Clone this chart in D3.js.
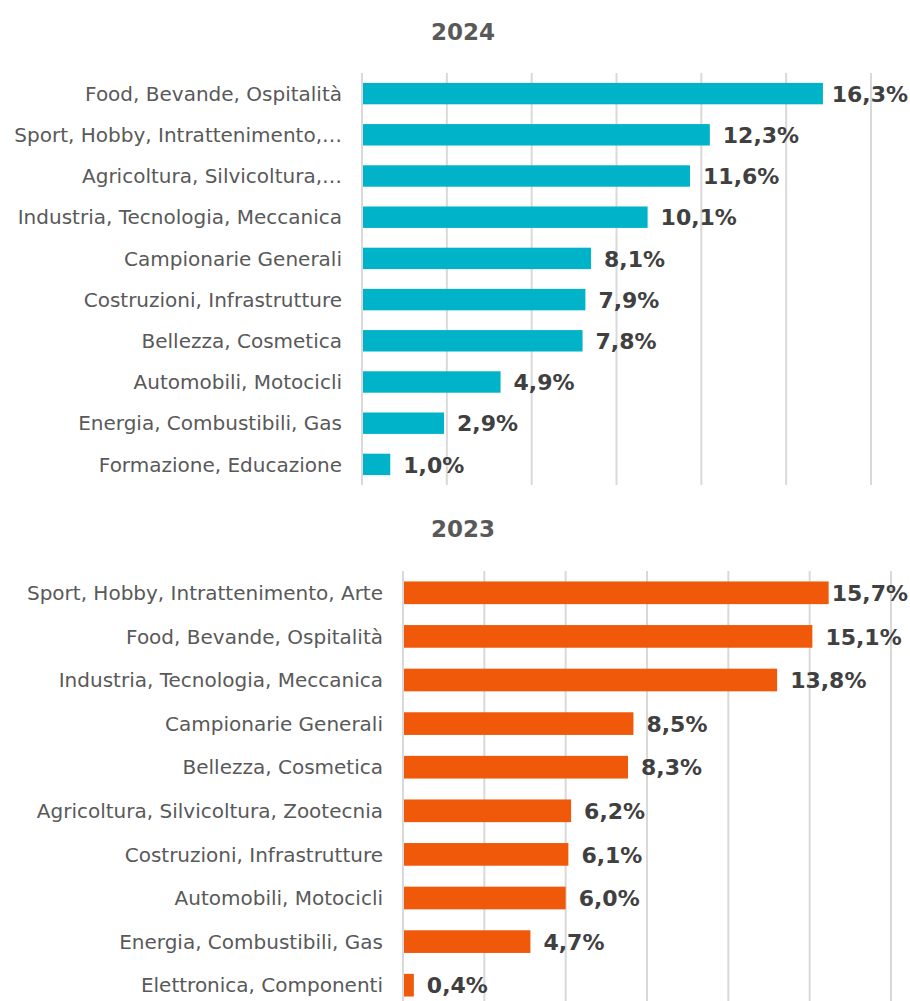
<!DOCTYPE html>
<html>
<head>
<meta charset="utf-8">
<script src="https://cdn.jsdelivr.net/npm/d3@7"></script>
<style>
  body { margin: 0; background: #fff; }
  svg { display: block; }
  .cat { font-family: "DejaVu Sans", Verdana, sans-serif; font-size: 20px; fill: #595959; }
  .val { font-family: "DejaVu Sans", Verdana, sans-serif; font-size: 22px; font-weight: bold; fill: #404040; }
  .ttl { font-family: "DejaVu Sans", Verdana, sans-serif; font-size: 23px; font-weight: bold; fill: #595959; }
</style>
</head>
<body>
<div id="chart"></div>
<script>
const categories2024 = [
  'Food, Bevande, Ospitalità',
  'Sport, Hobby, Intrattenimento,…',
  'Agricoltura, Silvicoltura,…',
  'Industria, Tecnologia, Meccanica',
  'Campionarie Generali',
  'Costruzioni, Infrastrutture',
  'Bellezza, Cosmetica',
  'Automobili, Motocicli',
  'Energia, Combustibili, Gas',
  'Formazione, Educazione'
];
const values2024 = [16.3, 12.3, 11.6, 10.1, 8.1, 7.9, 7.8, 4.9, 2.9, 1.0];

const categories2023 = [
  'Sport, Hobby, Intrattenimento, Arte',
  'Food, Bevande, Ospitalità',
  'Industria, Tecnologia, Meccanica',
  'Campionarie Generali',
  'Bellezza, Cosmetica',
  'Agricoltura, Silvicoltura, Zootecnia',
  'Costruzioni, Infrastrutture',
  'Automobili, Motocicli',
  'Energia, Combustibili, Gas',
  'Elettronica, Componenti'
];
const values2023 = [15.7, 15.1, 13.8, 8.5, 8.3, 6.2, 6.1, 6.0, 4.7, 0.4];

const gridTicks = [0, 3, 6, 9, 12, 15, 18];

const W = 910, H = 1001;
const svg = d3.select('#chart').append('svg').attr('width', W).attr('height', H);

const fmt = v => v.toFixed(1).replace('.', ',') + '%';

function drawPanel(cfg) {
  const { title, titleY, cats, vals, color, x0, x1, y0, y1, gridBottom } = cfg;
  const g = svg.append('g');

  g.append('text').attr('class', 'ttl')
    .attr('x', cfg.titleX).attr('y', titleY)
    .attr('text-anchor', 'middle')
    .text(title);

  const xScale = d3.scaleLinear().domain([0, 18]).range([x0, x1]);
  const yScale = d3.scaleBand().domain(cats).range([y0, y1]).paddingInner(0.48).paddingOuter(0.24);

  // gridlines
  g.append('g').selectAll('line')
    .data(gridTicks)
    .enter()
    .append('line')
    .attr('x1', d => xScale(d)).attr('x2', d => xScale(d))
    .attr('y1', y0).attr('y2', gridBottom)
    .attr('stroke', '#d9d9d9').attr('stroke-width', 2);

  g.append('g').selectAll('rect')
    .data(vals)
    .enter()
    .append('rect')
    .attr('x', xScale(0) + 1)
    .attr('y', (d, i) => yScale(cats[i]))
    .attr('width', d => xScale(d) - xScale(0) - 1)
    .attr('height', yScale.bandwidth())
    .attr('fill', color);

  // category labels
  g.append('g').selectAll('text')
    .data(cats)
    .enter()
    .append('text')
    .attr('class', 'cat')
    .attr('x', xScale(0) - 20)
    .attr('y', d => yScale(d) + yScale.bandwidth() / 2)
    .attr('dy', '0.36em')
    .attr('text-anchor', 'end')
    .text(d => d);

  // value labels
  g.append('g').selectAll('text')
    .data(vals)
    .enter()
    .append('text')
    .attr('class', 'val')
    .attr('y', (d, i) => yScale(cats[i]) + yScale.bandwidth() / 2)
    .attr('dy', '0.37em')
    .text(d => fmt(d))
    .attr('x', function (d) {
      const w = this.getComputedTextLength();
      return Math.min(xScale(d) + 13, 908 - w);
    });
}

drawPanel({
  title: '2024', titleX: 463, titleY: 40,
  cats: categories2024, vals: values2024, color: '#00b3c8',
  x0: 362, x1: 871, y0: 73, y1: 485, gridBottom: 485
});

drawPanel({
  title: '2023', titleX: 463, titleY: 537,
  cats: categories2023, vals: values2023, color: '#f0590a',
  x0: 403, x1: 891, y0: 571, y1: 1007, gridBottom: 1001
});
</script>
</body>
</html>
